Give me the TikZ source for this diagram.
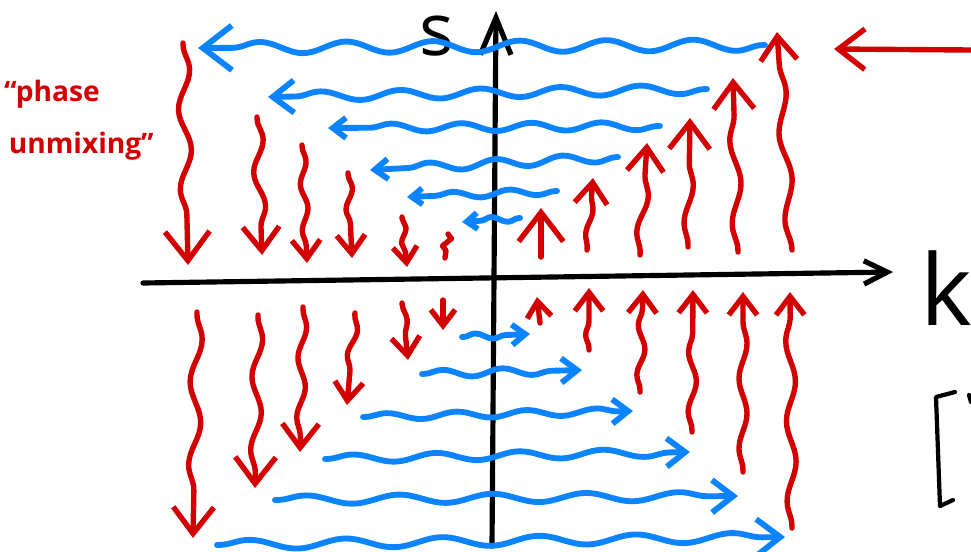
\documentclass[tikz,border=0pt]{standalone}
\usepackage{fontspec}
\setsansfont{Open Sans}
\usetikzlibrary{decorations.pathmorphing,arrows.meta}
\definecolor{inkred}{RGB}{210,0,0}
\definecolor{inkblue}{RGB}{12,132,255}
\tikzset{
  wave/.style 2 args={decorate, decoration={snake, amplitude=#1, segment length=#2, pre length=0.5mm, post length=4mm}},
  head/.style={-{Straight Barb[angle=75:#1]}},
  blueflow/.style={inkblue, line width=5pt, line cap=round, line join=round},
  redflow/.style={inkred, line width=4.6pt, line cap=round, line join=round},
  axis/.style={black, line width=4.4pt, line cap=round, line join=round}
}
\begin{document}
\begin{tikzpicture}[x=0.03cm, y=-0.03cm, every node/.style={inner sep=0pt}]
  \useasboundingbox (0,0) rectangle (971,551);
  % axes
  \coordinate (xl) at (143,283);
  \coordinate (xr) at (893,272);
  \coordinate (yb) at (492,546);
  \coordinate (yt) at (496,11);
  \draw[axis, -{Straight Barb[length=7mm,width=7mm]}] (xl) -- (xr);
  \draw[axis, -{Straight Barb[angle=45:12mm]}] (yb) -- (yt);
  \node[font=\sffamily\fontsize{62}{62}\selectfont] (s) at (437,36) {s};
  \node[font=\sffamily\fontsize{84}{84}\selectfont] (k) at (946,288) {k};
  % label
  \node[inkred, font=\sffamily\bfseries\fontsize{24}{30}\selectfont, align=left, anchor=north west] (unmix) at (4,80) {“phase\\[14pt]\hspace{4pt}unmixing”};
  \coordinate (pointer) at (971,50);
  \coordinate (pointtip) at (834,49);
  \draw[redflow, head=10mm] (pointer) -- (pointtip);
  % bracket
  \draw[axis, line width=3.6pt] (955,392) -- (936,397) -- (940,506) -- (953,500);
  \draw[axis, line width=3.6pt] (969,395) -- (971,402);
  % blue, upper half (leftward)
  \draw[blueflow, wave={1.7mm}{2.6cm}, head=11mm] (765,45) -- (198,48);
  \draw[blueflow, wave={1.4mm}{2.4cm}, head=8mm] (707,89) -- (268,97);
  \draw[blueflow, wave={1.2mm}{2.1cm}, head=5mm] (660,126) -- (328,128);
  \draw[blueflow, wave={1.3mm}{2.0cm}, head=5mm] (618,157) -- (370,170);
  \draw[blueflow, wave={1.0mm}{1.7cm}, head=4mm] (557,191) -- (407,197);
  \draw[blueflow, wave={0.9mm}{1.0cm}, head=4mm] (520,218) -- (462,222);
  % blue, lower half (rightward)
  \draw[blueflow, wave={0.9mm}{1.1cm}, head=5mm] (462,337) -- (530,334);
  \draw[blueflow, wave={1.1mm}{1.8cm}, head=6mm] (422,374) -- (582,370);
  \draw[blueflow, wave={1.0mm}{2.1cm}, head=6mm] (363,417) -- (633,411);
  \draw[blueflow, wave={1.2mm}{2.5cm}, head=7mm] (325,459) -- (690,452);
  \draw[blueflow, wave={1.3mm}{2.8cm}, head=8mm] (275,500) -- (738,496);
  \draw[blueflow, wave={1.4mm}{2.9cm}, head=9mm] (217,545) -- (785,537);
  % red, upper left (downward)
  \draw[redflow, wave={1.8mm}{2.4cm}, head=11mm] (183,43) -- (188,265);
  \draw[redflow, wave={1.6mm}{2.0cm}, head=9mm] (257,117) -- (262,255);
  \draw[redflow, wave={1.0mm}{1.4cm}, head=7mm] (302,145) -- (307,263);
  \draw[redflow, wave={1.1mm}{1.3cm}, head=7mm] (348,173) -- (352,258);
  \draw[redflow, wave={0.9mm}{0.9cm}, head=6mm] (402,217) -- (407,267);
  \draw[redflow, decorate, decoration={zigzag, amplitude=1.2mm, segment length=0.5cm}] (448,234) -- (445,258);
  % red, upper right (upward)
  \draw[redflow, head=11mm] (541,257) -- (541,208);
  \draw[redflow, wave={0.8mm}{1.4cm}, head=8mm] (587,250) -- (593,178);
  \draw[redflow, wave={1.4mm}{2.1cm}, head=9mm] (640,255) -- (647,143);
  \draw[redflow, wave={1.3mm}{2.2cm}, head=10mm] (688,247) -- (690,118);
  \draw[redflow, wave={1.5mm}{2.5cm}, head=10mm] (738,252) -- (733,78);
  \draw[redflow, wave={1.5mm}{2.6cm}, head=9mm] (792,250) -- (777,32);
  % red, lower left (downward)
  \draw[redflow, wave={1.7mm}{2.5cm}, head=10mm] (197,312) -- (193,538);
  \draw[redflow, wave={1.5mm}{2.2cm}, head=10mm] (258,315) -- (255,488);
  \draw[redflow, wave={1.2mm}{1.8cm}, head=9mm] (303,307) -- (300,452);
  \draw[redflow, wave={1.2mm}{1.5cm}, head=7mm] (355,313) -- (347,405);
  \draw[redflow, wave={1.0mm}{1.5cm}, head=7mm] (402,303) -- (408,360);
  \draw[redflow, head=6mm] (443,300) -- (443,330);
  % red, lower right (upward)
  \draw[redflow, wave={0.9mm}{0.9cm}, head=6mm] (540,323) -- (537,297);
  \draw[redflow, wave={1.0mm}{1.3cm}, head=7mm] (589,350) -- (589,288);
  \draw[redflow, wave={1.1mm}{1.5cm}, head=7mm] (640,392) -- (643,290);
  \draw[redflow, wave={1.2mm}{1.8cm}, head=7mm] (692,432) -- (693,290);
  \draw[redflow, wave={1.2mm}{2.1cm}, head=7mm] (743,472) -- (743,292);
  \draw[redflow, wave={1.4mm}{2.4cm}, head=7mm] (792,528) -- (790,292);
\end{tikzpicture}
\end{document}
